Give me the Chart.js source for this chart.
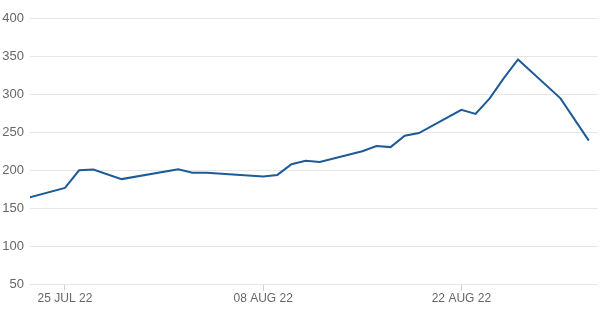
<!DOCTYPE html>
<html>
<head>
<meta charset="utf-8">
<script src="https://cdn.jsdelivr.net/npm/chart.js@4"></script>
<style>
  html, body { margin: 0; padding: 0; background: #fff; }
  #wrap { width: 600px; height: 313px; }
</style>
</head>
<body>
<div id="wrap"><canvas id="chart"></canvas></div>
<script>
// dates of the points (weekdays only, flat segments over gaps)
const dates = ['2022-07-22', '2022-07-25', '2022-07-26', '2022-07-27', '2022-07-29',
  '2022-08-02', '2022-08-03', '2022-08-04', '2022-08-08', '2022-08-09', '2022-08-10',
  '2022-08-11', '2022-08-12', '2022-08-15', '2022-08-16', '2022-08-17', '2022-08-18',
  '2022-08-19', '2022-08-22', '2022-08-23', '2022-08-24', '2022-08-25', '2022-08-26',
  '2022-08-29', '2022-08-31'];
const values = [162, 177, 200, 201, 188.5,
  201.5, 197, 197, 192, 194, 208,
  212.5, 211, 225, 232, 230.5,
  245.5, 249, 279.5, 274, 294.5, 321, 345.5,
  294.5, 239];
const tickDates = ['2022-07-25', '2022-08-08', '2022-08-22'];
const tickLabels = ['25 JUL 22', '08 AUG 22', '22 AUG 22'];
const yTicks = [50, 100, 150, 200, 250, 300, 350, 400];

const base = Date.UTC(2022, 6, 25);
function dayOf(s) {
  const p = s.split('-');
  return (Date.UTC(+p[0], +p[1] - 1, +p[2]) - base) / 86400000;
}
const points = dates.map((d, i) => ({ x: dayOf(d), y: values[i] }));
const tickDays = tickDates.map(dayOf);

const ctx = document.getElementById('chart').getContext('2d');
new Chart(ctx, {
  type: 'line',
  data: {
    datasets: [{
      data: points,
      borderColor: '#1d5a98',
      borderWidth: 2,
      pointRadius: 0,
      tension: 0,
      fill: false
    }]
  },
  options: {
    responsive: true,
    maintainAspectRatio: false,
    animation: false,
    layout: { padding: { top: 18, right: 2, bottom: 6, left: 0 } },
    plugins: { legend: { display: false }, tooltip: { enabled: false } },
    scales: {
      x: {
        type: 'linear',
        min: -2.47,
        max: 37.65,
        afterBuildTicks: function(scale) {
          scale.ticks = tickDays.map(v => ({ value: v }));
        },
        ticks: {
          autoSkip: false,
          maxRotation: 0,
          padding: 1,
          color: '#666',
          font: { family: 'Liberation Sans', size: 12 },
          callback: function(v) {
            const i = tickDays.indexOf(v);
            return i >= 0 ? tickLabels[i] : '';
          }
        },
        grid: { drawOnChartArea: false, drawTicks: true, tickLength: 6, color: '#d0d0d0' },
        border: { display: false }
      },
      y: {
        min: 50,
        max: 400,
        afterBuildTicks: function(scale) {
          scale.ticks = yTicks.map(v => ({ value: v }));
        },
        afterFit: function(scale) { scale.width = 30; },
        ticks: {
          padding: 6,
          color: '#666',
          font: { family: 'Liberation Sans', size: 13 }
        },
        grid: { color: '#e6e6e6', drawTicks: false, lineWidth: 1 },
        border: { display: false }
      }
    }
  }
});
</script>
</body>
</html>
